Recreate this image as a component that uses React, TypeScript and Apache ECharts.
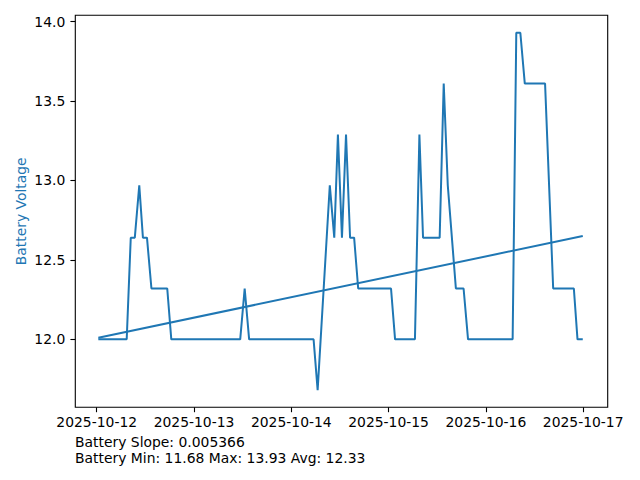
import React, { useEffect, useRef } from "react";
import * as echarts from "echarts";

// hours since 2025-10-12 00:00
const sampleHours = [
  0.4, 7.4, 8.4, 9.4, 10.5, 11.4, 12.4, 13.5, 17.4, 18.4, 35.4, 36.5, 37.6,
  53.5, 54.5, 57.5, 58.6, 59.5, 60.5, 61.5, 62.5, 63.5, 64.5, 72.6, 73.6,
  78.5, 79.6, 80.5, 84.6, 85.6, 86.6, 88.6, 90.5, 91.6, 102.6, 103.5, 104.5,
  105.6, 110.6, 112.6, 117.7, 118.6, 119.9,
];
const batteryVoltage = [
  12.0, 12.0, 12.64, 12.64, 12.97, 12.64, 12.64, 12.32, 12.32, 12.0, 12.0, 12.32, 12.0,
  12.0, 11.68, 12.97, 12.64, 13.29, 12.64, 13.29, 12.64, 12.64, 12.32, 12.32, 12.0,
  12.0, 13.29, 12.64, 12.64, 13.61, 12.97, 12.32, 12.32, 12.0, 12.0, 13.93, 13.93,
  13.61, 13.61, 12.32, 12.32, 12.0, 12.0,
];
const trendHours = [0.4, 119.9];
const trendVoltage = [12.01, 12.65];

const xTickHours = [0, 24, 48, 72, 96, 120];
const xTickLabels = ["2025-10-12", "2025-10-13", "2025-10-14", "2025-10-15", "2025-10-16", "2025-10-17"];
const yTickValues = [12.0, 12.5, 13.0, 13.5, 14.0];
const yTickLabels = ["12.0", "12.5", "13.0", "13.5", "14.0"];

const statLines = ["Battery Slope: 0.005366", "Battery Min: 11.68 Max: 13.93 Avg: 12.33"];

const FONT = "DejaVu Sans";
const BLUE = "#1f77b4";

export default function App() {
  const ref = useRef<HTMLDivElement>(null);
  useEffect(() => {
    if (!ref.current) return;
    const chart = echarts.init(ref.current, null, { renderer: "svg" });
    chart.setOption({
      animation: false,
      backgroundColor: "#fff",
      grid: {
        left: 75.3,
        top: 15.3,
        right: 32.3,
        bottom: 72.7,
        show: true,
        borderColor: "#000",
        borderWidth: 1.1,
        backgroundColor: "transparent",
        outerBoundsMode: "none",
      },
      xAxis: {
        type: "value",
        min: -5.28,
        max: 126.05,
        axisLine: { show: false, onZero: false },
        splitLine: { show: false },
        axisTick: {
          show: true,
          length: 4.9,
          lineStyle: { color: "#000", width: 1.1 },
          customValues: xTickHours,
        },
        axisLabel: {
          customValues: xTickHours,
          formatter: (v: number) => {
            const i = xTickHours.indexOf(Math.round(v));
            return i >= 0 ? xTickLabels[i] : "";
          },
          color: "#000",
          fontFamily: FONT,
          fontSize: 13.9,
          margin: 8,
          showMinLabel: true,
          showMaxLabel: true,
        },
      },
      yAxis: {
        type: "value",
        min: 11.572,
        max: 14.04,
        axisLine: { show: false, onZero: false },
        splitLine: { show: false },
        axisTick: {
          show: true,
          length: 4.9,
          lineStyle: { color: "#000", width: 1.1 },
          customValues: yTickValues,
        },
        axisLabel: {
          customValues: yTickValues,
          formatter: (v: number) => {
            const i = yTickValues.findIndex((t) => Math.abs(t - v) < 1e-6);
            return i >= 0 ? yTickLabels[i] : "";
          },
          color: "#000",
          fontFamily: FONT,
          fontSize: 13.9,
          margin: 10,
        },
        name: "Battery Voltage",
        nameLocation: "middle",
        nameRotate: 90,
        nameGap: 47,
        nameMoveOverlap: false,
        nameTextStyle: { color: BLUE, fontFamily: FONT, fontSize: 13.9 },
      },
      series: [
        {
          type: "line",
          data: sampleHours.map((h, i) => [h, batteryVoltage[i]]),
          showSymbol: false,
          symbol: "none",
          lineStyle: { color: BLUE, width: 2 },
          itemStyle: { color: BLUE },
        },
        {
          type: "line",
          data: trendHours.map((h, i) => [h, trendVoltage[i]]),
          showSymbol: false,
          symbol: "none",
          lineStyle: { color: BLUE, width: 2 },
          itemStyle: { color: BLUE },
        },
      ],
      graphic: statLines.map((t, i) => ({
        type: "text",
        left: 75,
        top: 434.5 + i * 16.7,
        style: { text: t, fill: "#000", font: `13.9px "${FONT}"` },
      })),
    });
    return () => chart.dispose();
  }, []);
  return (
    <div
      ref={ref}
      style={{ position: "fixed", left: 0, top: 0, width: 640, height: 480 }}
    />
  );
}
